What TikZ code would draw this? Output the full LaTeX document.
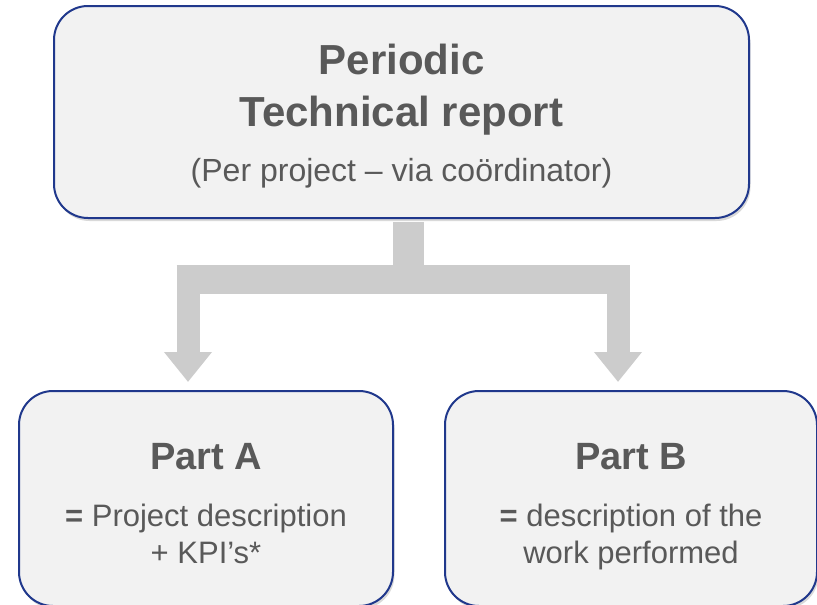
\documentclass[tikz,border=0pt]{standalone}
\usepackage{fontspec}
\setmainfont{Liberation Sans}
\usetikzlibrary{arrows.meta,calc,positioning,shadows}
\definecolor{boxnavy}{RGB}{32,56,140}
\definecolor{boxfill}{RGB}{242,242,242}
\definecolor{labelgray}{RGB}{89,89,89}
\definecolor{flowgray}{RGB}{204,204,204}

\begin{document}
\begin{tikzpicture}[
    x=1pt, y=-1pt,
    every node/.style={align=center, text=labelgray},
    report/.style={
      rectangle, rounded corners=34pt, draw=boxnavy, line width=2pt,
      fill=boxfill, inner sep=0pt,
      drop shadow={shadow xshift=1.5pt, shadow yshift=-3pt, opacity=0.3}
    },
    part/.style={report, minimum height=215pt, text height=130pt, text depth=0pt,
      font=\fontsize{31}{37}\selectfont},
    trunk/.style={draw=flowgray, line width=31pt},
    crossbar/.style={draw=flowgray, line width=29pt},
    branch/.style={draw=flowgray, line width=23pt, -{Triangle[width=46pt, length=30pt]}}
  ]
    \useasboundingbox (0,0) rectangle (817,605);

    \node[report, minimum width=695pt, minimum height=212pt,
          text height=139.4pt, text depth=0pt,
          font=\bfseries\fontsize{42}{52}\selectfont] (report) at (401.5,112)
      {Periodic\\Technical report\\[3pt]
       \mdseries\fontsize{32}{52}\selectfont (Per project – via coördinator)};
    \node[part, minimum width=374pt] (parta) at (206,498.5)
      {\bfseries\fontsize{38}{37}\selectfont Part A\\[20pt]
       \textbf{=} Project description\\+ KPI’s*};
    \node[part, minimum width=372pt, right=50pt of parta] (partb)
      {\bfseries\fontsize{38}{37}\selectfont Part B\\[20pt]
       \textbf{=} description of the\\work performed};

    \coordinate (fork) at ($(report.south)+(7,60)$);
    \coordinate (dropa) at ($(parta.north)+(-18,-8)$);
    \coordinate (dropb) at ($(partb.north)+(-13,-8)$);

    \draw[trunk] ($(report.south -| fork)+(0,3)$) -- (fork);
    \draw[crossbar] ($(fork -| dropa)+(-11.5,0)$) -- ($(fork -| dropb)+(11.5,0)$);
    \draw[branch] (fork -| dropa) -- (dropa);
    \draw[branch] (fork -| dropb) -- (dropb);
  \end{tikzpicture}
\end{document}
